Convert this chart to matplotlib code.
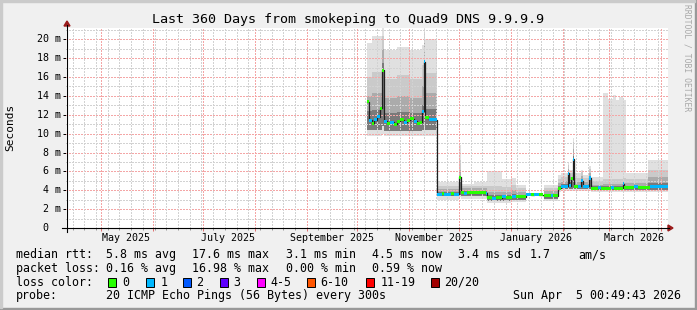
import datetime as dt

import matplotlib
matplotlib.use("Agg")
import matplotlib.pyplot as plt
import matplotlib.dates as mdates
import numpy as np
from matplotlib.patches import Rectangle, Polygon
from matplotlib.lines import Line2D

W, H = 697, 310
MONO = "DejaVu Sans Mono"

t_start = dt.datetime(2025, 4, 10, 0, 49, 43)
t_end = dt.datetime(2026, 4, 5, 0, 49, 43)
day0 = dt.datetime(2025, 10, 1)
end_day = 186

# median rtt in ms, one step per segment (start = days after 2025-10-01)
med_day = [6, 7, 9, 10, 12, 14, 15, 16, 18, 20, 22, 24, 26, 28, 30, 32, 34, 36, 38, 39,
           40, 41, 43, 48, 51, 52, 56, 58, 61, 62, 64, 66, 77, 78, 81, 83, 87, 89, 93, 95,
           101, 104, 106, 109, 111, 112, 116, 117, 120, 122, 126, 127, 128, 129, 130, 132,
           134, 135, 139, 140, 144, 146, 152, 154, 159, 160, 166, 168, 175]
med_ms = [13.4, 11.4, 11.1, 11.5, 11.8, 12.7, 16.7, 11.3, 11.1, 11.2, 11.0, 11.3, 11.5, 11.2,
          11.4, 11.6, 11.3, 11.1, 11.2, 12.4, 17.6, 11.7, 11.5, 3.6, 3.7, 3.6, 3.65, 3.6, 5.4,
          3.8, 3.7, 3.75, 3.7, 3.25, 3.15, 3.2, 3.3, 3.25, 3.35, 3.3, 3.6, 3.55, 3.6, 3.5,
          np.nan, 3.4, 3.45, 3.4, 4.2, 4.4, 5.8, 4.5, 5.2, 7.3, 4.4, 4.4, 5.0, 4.4, 5.3, 4.2,
          4.25, 4.2, 4.25, 4.2, 4.7, 4.3, 4.35, 4.3, 4.45]
med_loss = [0, 1, 0, 1, 1, 0, 0, 1, 0, 1, 0, 0, 0, 1, 0, 0, 1, 0, 0, 1,
            1, 0, 1, 1, 0, 1, 0, 1, 0, 0, 1, 0, 1, 0, 1, 0, 1, 0, 1, 0,
            1, 0, 1, 0, 0, 0, 1, 0, 0, 1, 1, 1, 0, 1, 0, 1,
            1, 1, 1, 0, 1, 0, 1, 0, 1, 0, 1, 0, 1]

# smoke (ping spread) in ms, one step per segment
smoke_day = [6, 9, 15, 16, 24, 32, 39, 40, 41, 48, 61, 62, 70, 78, 87, 92, 95, 101, 111,
             112, 120, 122, 126, 127, 129, 130, 134, 135, 139, 140, 147, 150, 153, 155, 157,
             159, 161, 174]
smoke_lo = [9.8, 9.8, 10.0, 9.7, 9.7, 9.7, 9.8, 10.0, 9.8, 3.0, 3.3, 3.1, 3.1, 2.7, 2.7, 2.8,
            2.8, 3.1, np.nan, 2.9, 3.8, 3.9, 4.0, 3.9, 4.0, 3.9, 3.9, 3.9, 3.9, 3.85, 3.8, 3.8,
            3.8, 3.8, 3.8, 3.8, 3.8, 3.8]
smoke_p10 = [10.4, 10.4, 10.8, 10.3, 10.3, 10.3, 10.4, 10.8, 10.4, 3.35, 3.5, 3.4, 3.4, 2.9,
             2.9, 3.0, 3.0, 3.3, np.nan, 3.1, 4.0, 4.1, 4.2, 4.1, 4.2, 4.1, 4.1, 4.1, 4.1, 4.0,
             4.0, 4.0, 4.0, 4.0, 4.0, 4.0, 4.0, 4.0]
smoke_p60 = [12.4, 12.5, 17.5, 12.2, 12.3, 12.2, 13.0, 18.2, 12.6, 3.85, 5.0, 3.95, 3.9, 3.45,
             3.45, 3.6, 3.5, 3.8, np.nan, 3.6, 4.5, 4.7, 5.9, 5.0, 7.6, 4.6, 5.1, 4.6, 5.4, 4.4,
             4.4, 4.4, 4.4, 4.4, 4.4, 4.5, 4.5, 4.8]
smoke_p75 = [14.0, 14.3, 19.0, 13.8, 14.0, 13.8, 15.0, 19.6, 14.3, 4.1, 6.2, 4.2, 4.2, 3.8,
             3.8, 4.0, 3.8, 4.1, np.nan, 3.9, 4.8, 5.0, 6.3, 5.4, 8.4, 4.9, 5.5, 4.9, 5.8, 4.6,
             4.7, 4.7, 4.7, 4.7, 4.7, 4.8, 4.8, 5.4]
smoke_p90 = [16.0, 16.5, 20.3, 15.8, 16.2, 15.8, 17.3, 20.6, 16.4, 4.4, 7.2, 4.5, 4.5, 4.4,
             4.3, 4.6, 4.2, 4.4, np.nan, 4.2, 5.2, 5.4, 6.7, 5.8, 9.1, 5.3, 5.9, 5.3, 6.3, 5.0,
             5.2, 5.2, 5.2, 5.2, 5.2, 5.3, 5.2, 6.1]
smoke_hi = [19.6, 20.4, 21.5, 18.9, 19.2, 18.9, 19.4, 21.5, 20.0, 4.9, 8.8, 4.7, 4.9, 6.0,
            5.2, 5.3, 4.6, 5.0, np.nan, 4.6, 5.6, 5.8, 7.0, 6.2, 9.5, 5.8, 6.2, 5.6, 6.6, 5.4,
            14.3, 13.7, 14.1, 13.6, 13.9, 13.6, 5.8, 7.2]

loss_labels = ["0", "1", "2", "3", "4-5", "6-10", "11-19", "20/20"]
loss_colors = ["#26ff00", "#00b8ff", "#0059ff", "#5e00ff", "#ff00ff", "#ff5500", "#ff0000",
               "#a10000"]

month_labels = ["May 2025", "July 2025", "September 2025", "November 2025", "January 2026",
                "March 2026"]
month_label_dates = [dt.datetime(2025, 5, 16), dt.datetime(2025, 7, 16), dt.datetime(2025, 9, 16),
                     dt.datetime(2025, 11, 16), dt.datetime(2026, 1, 16), dt.datetime(2026, 3, 16)]


def px(x, y):
    return x / W, 1 - y / H


def ftext(x, y, s, **kw):
    kw.setdefault("family", MONO)
    kw.setdefault("va", "center")
    fig.text(*px(x, y), s, **kw)


def edges(days):
    return [mdates.date2num(day0 + dt.timedelta(days=d)) for d in list(days) + [end_day]]


def ext(v):
    return list(v) + [v[-1]]


fig = plt.figure(figsize=(W / 100, H / 100), dpi=100, facecolor="#f0f0f0")

# 3D frame
fig.patches.append(Rectangle((0, 0), 1, 2 / H, transform=fig.transFigure, color="#999999"))
fig.patches.append(Rectangle((1 - 2 / W, 0), 2 / W, 1, transform=fig.transFigure, color="#999999"))
fig.patches.append(Rectangle((0, 1 - 2 / H), 1 - 2 / W, 2 / H, transform=fig.transFigure, color="#cbcbcb"))
fig.patches.append(Rectangle((0, 2 / H), 2 / W, 1, transform=fig.transFigure, color="#cbcbcb"))

ax = fig.add_axes([66 / W, (H - 228) / H, 602 / W, 200 / H])
ax.set_facecolor("white")
ax.set_xlim(mdates.date2num(t_start), mdates.date2num(t_end))
ax.set_ylim(0, 21.2)
for s in ax.spines.values():
    s.set_visible(False)

# smoke
xs = edges(smoke_day)
ax.fill_between(xs, ext(smoke_lo), ext(smoke_hi), step="post", color="#e0e0e0", lw=0, zorder=1)
ax.fill_between(xs, ext(smoke_p10), ext(smoke_p90), step="post", color="#cacaca", lw=0, zorder=2)
ax.fill_between(xs, ext(smoke_p10), ext(smoke_p75), step="post", color="#ababab", lw=0, zorder=3)
ax.fill_between(xs, ext(smoke_p10), ext(smoke_p60), step="post", color="#7a7a7a", lw=0, zorder=4)

# grid (dotted, drawn over the smoke like rrdtool does)
dash = (0, (1, 1))
gkw = dict(lw=1.0, ls=dash, zorder=5, antialiased=False)
minor_c, major_c = "#d2d2d2", "#f4a6a6"
for v in np.arange(1, 22, 1):
    ax.axhline(v, color=major_c if v % 2 == 0 else minor_c, **gkw)
wk = dt.datetime(2025, 4, 14)
while wk < t_end:
    ax.axvline(mdates.date2num(wk), color=minor_c, **gkw)
    wk += dt.timedelta(days=7)
month_starts = [dt.datetime(2025 + (m - 1) // 12, (m - 1) % 12 + 1, 1) for m in range(5, 17)]
for m in month_starts:
    ax.axvline(mdates.date2num(m), color=major_c, **gkw)

# median line + loss colour bands
xm = edges(med_day)
ax.step(xm, ext(med_ms), where="post", color="#202020", lw=0.9, zorder=6)
for i, v in enumerate(med_ms):
    if np.isnan(v):
        continue
    ax.add_patch(Rectangle((xm[i], v - 0.16), xm[i + 1] - xm[i], 0.32,
                           color=loss_colors[med_loss[i]], lw=0, zorder=7))

# ticks
ax.set_xticks([mdates.date2num(m) for m in month_starts])
ax.set_xticks([mdates.date2num(dt.datetime(2025, 4, 14) + dt.timedelta(days=7 * k))
               for k in range(51)], minor=True)
ax.tick_params(axis="x", which="major", length=2.2, width=0.72, color="#e07070",
               labelbottom=False)
ax.tick_params(axis="x", which="minor", length=1.5, width=0.72, color="#999999")
ax.set_yticks(np.arange(0, 21, 2))
ax.tick_params(axis="y", length=2.5, width=0.72, color="black", labelleft=False)

# axes lines and arrows
fig.lines.append(Line2D([62 / W, 669 / W], [1 - 228 / H] * 2, transform=fig.transFigure,
                        color="black", lw=0.8))
fig.lines.append(Line2D([67 / W] * 2, [1 - 232 / H, 1 - 25 / H], transform=fig.transFigure,
                        color="black", lw=0.8))
fig.patches.append(Polygon([px(668, 225), px(668, 231), px(673, 228)], closed=True,
                           transform=fig.transFigure, color="#9b1b1b"))
fig.patches.append(Polygon([px(64, 26), px(70, 26), px(67, 21)], closed=True,
                           transform=fig.transFigure, color="#9b1b1b"))

# axis labels
AFS = 7.2
for v in range(2, 21, 2):
    ftext(60.5, 228 - v * 9.435, f"{v} m", ha="right", fontsize=AFS)
ftext(48.4, 228, "0", ha="right", fontsize=AFS)
for d, lab in zip(month_label_dates, month_labels):
    ax.text(mdates.date2num(d), -0.05, lab, transform=ax.get_xaxis_transform(),
            ha="center", va="center", family=MONO, fontsize=AFS)

ftext(348, 20, "Last 360 Days from smokeping to Quad9 DNS 9.9.9.9", ha="center", fontsize=9.6)
ftext(10.5, 127, "Seconds", ha="center", rotation=90, fontsize=8)
fig.text(*px(687.5, 4), "RRDTOOL / TOBI OETIKER", ha="center", va="top", rotation=270,
         family=MONO, fontsize=5.8, color="#a8a8a8")

# legend
FS = 8.4
row1 = [(16, "median rtt:"), (107, "5.8 ms avg"), (193, "17.6 ms max"), (286, "3.1 ms min"),
        (372, "4.5 ms now"), (458, "3.4 ms sd"), (530, "1.7"), (579, "am/s")]
row2 = [(16, "packet loss:"), (107, "0.16 % avg"), (193, "16.98 % max"), (286, "0.00 % min"),
        (372, "0.59 % now")]
for x, s in row1:
    ftext(x - 0.5, 254.5, s, fontsize=FS)
for x, s in row2:
    ftext(x - 0.5, 268.5, s, fontsize=FS)

ftext(15.5, 282, "loss color:", fontsize=FS)
box_x = [108.3, 145.7, 182.7, 220, 257, 306.7, 365.7, 430.7]
lab_x = [123, 161, 197, 234, 270.7, 321, 380.7, 445]
for bx, lx, lab, c in zip(box_x, lab_x, loss_labels, loss_colors):
    fig.patches.append(Rectangle(px(bx, 286.5), 8 / W, 9 / H, transform=fig.transFigure,
                                 facecolor=c, edgecolor="black", lw=0.7))
    ftext(lx - 0.5, 282, lab, fontsize=FS)

ftext(15.5, 296, "probe:", fontsize=FS)
ftext(106.5, 296, "20 ICMP Echo Pings (56 Bytes) every 300s", fontsize=FS)
ftext(681, 296, "Sun Apr  5 00:49:43 2026", ha="right", fontsize=FS)

fig.savefig("out.png", dpi=100, facecolor=fig.get_facecolor())
